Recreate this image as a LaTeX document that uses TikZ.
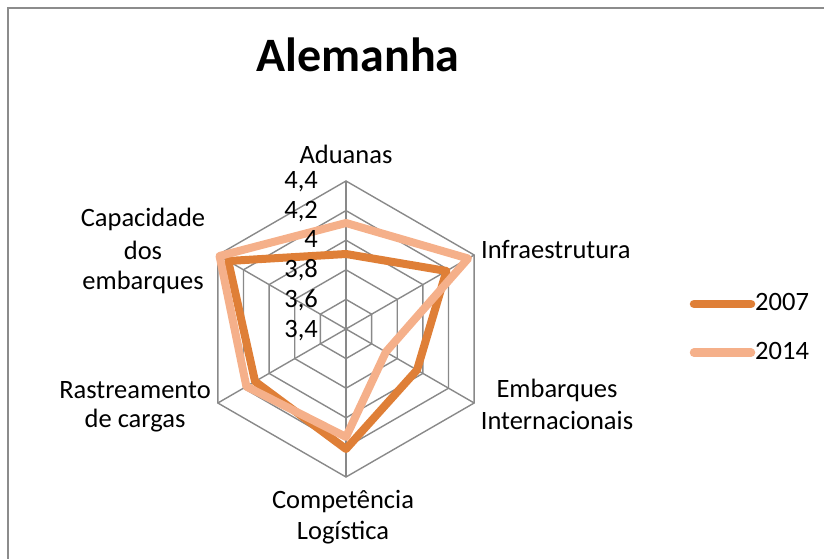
\documentclass[tikz,border=0pt]{standalone}
\usepackage{fontspec}
\setmainfont{Carlito}
\definecolor{gridgray}{HTML}{898989}
\definecolor{framegray}{HTML}{8C8C8C}
\definecolor{c2007}{HTML}{DF7F37}
\definecolor{c2014}{HTML}{F5B08A}
\begin{document}
\begin{tikzpicture}[x=1pt,y=1pt,
  gridline/.style={draw=gridgray,line width=1.4pt},
  ser07/.style={draw=c2007,line width=8pt,line join=round},
  ser14/.style={draw=c2014,line width=8pt,line join=round},
  leg07/.style={draw=c2007,line width=8.5pt,line cap=round},
  leg14/.style={draw=c2014,line width=8.5pt,line cap=round},
  lbl/.style={font=\fontsize{26.5}{32}\selectfont,inner sep=0pt,anchor=base},
  tick/.style={font=\fontsize{26.5}{32}\selectfont,inner sep=0pt,anchor=base east},
  ttl/.style={font=\fontsize{48}{56}\selectfont\bfseries,inner sep=0pt,anchor=base}]
\useasboundingbox (0,0) rectangle (824,559);
\draw[draw=framegray,line width=2pt] (7.5,-20) |- (850,550.5);
\node[ttl] (title) at (358,487.3) {Alemanha};
\begin{scope}[shift={(346,230)}]
  \foreach \r in {29.6,59.2,88.8,118.4,148}{
    \draw[gridline] (90:\r) -- (30:\r) -- (-30:\r) -- (-90:\r) -- (210:\r) -- (150:\r) -- cycle;
  }
  \foreach \a in {90,30,-30,-90,210,150}{
    \draw[gridline] (0,0) -- (\a:148);
  }
  \draw[ser07] (90:75) -- (30:116) -- (-30:82) -- (-90:120) -- (210:105) -- (150:136) -- cycle;
  \draw[ser14] (90:106) -- (30:141) -- (-30:46) -- (-90:108) -- (210:115) -- (150:146) -- cycle;
\end{scope}
% tick labels
\node[tick] (t44) at (318,370) {4,4};
\node[tick] (t42) at (318,340) {4,2};
\node[tick] (t40) at (318,311) {4};
\node[tick] (t38) at (318,281) {3,8};
\node[tick] (t36) at (318,251) {3,6};
\node[tick] (t34) at (318,221) {3,4};
% axis labels
\node[lbl] (adu) at (346,395.7) {Aduanas};
\node[lbl,anchor=base west] (inf) at (481,300.7) {Infraestrutura};
\node[lbl] (emb1) at (557,161) {Embarques};
\node[lbl] (emb2) at (557,129) {Internacionais};
\node[lbl] (comp1) at (343,50.7) {Competência};
\node[lbl] (comp2) at (343,19) {Logística};
\node[lbl] (ras1) at (135,160.7) {Rastreamento};
\node[lbl] (ras2) at (135,131) {de cargas};
\node[lbl] (cap1) at (143,332.3) {Capacidade};
\node[lbl] (cap2) at (143,299.5) {dos};
\node[lbl] (cap3) at (143,269) {embarques};
% legend
\coordinate (l07a) at (694,255);
\coordinate (l07b) at (751,255);
\coordinate (l14a) at (694,206.3);
\coordinate (l14b) at (751,206.3);
\draw[leg07] (l07a) -- (l07b);
\draw[leg14] (l14a) -- (l14b);
\node[lbl,anchor=base west] (y07) at (755,248) {2007};
\node[lbl,anchor=base west] (y14) at (755,199) {2014};
\end{tikzpicture}
\end{document}
